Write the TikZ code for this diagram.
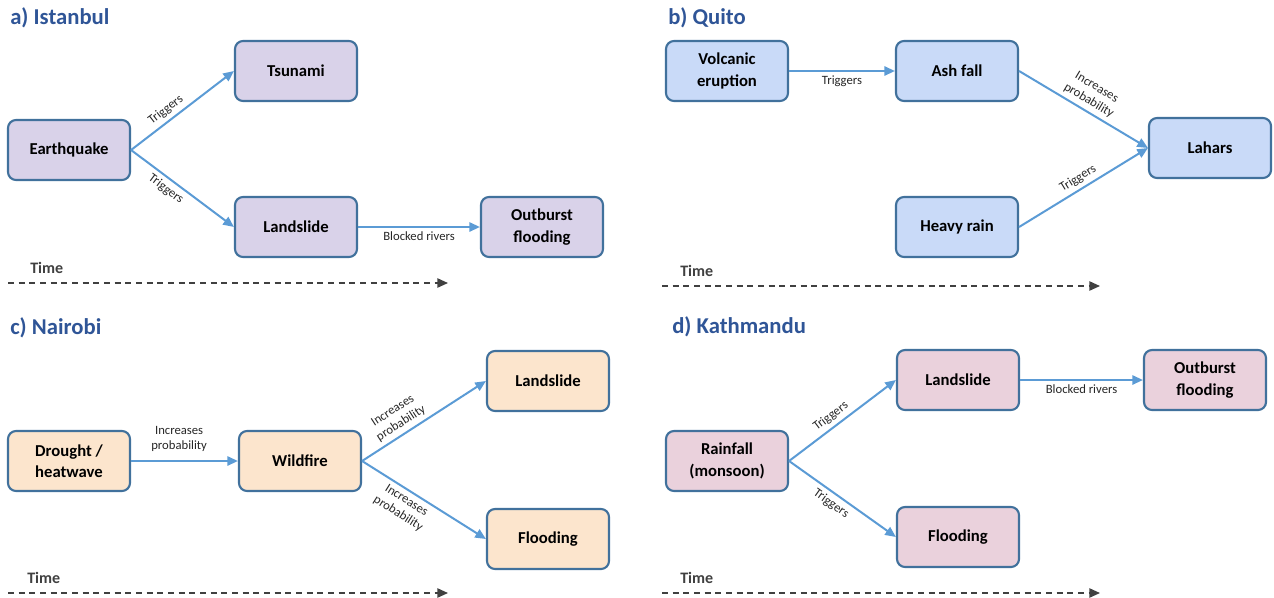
\documentclass[tikz,border=0pt]{standalone}
\usepackage{fontspec}
\setmainfont{Carlito}
\usetikzlibrary{arrows.meta}
\definecolor{lav}{HTML}{D9D2E9}
\definecolor{lblue}{HTML}{C9DAF8}
\definecolor{peach}{HTML}{FCE5CD}
\definecolor{pinkf}{HTML}{EAD1DC}
\definecolor{bord}{HTML}{41719C}
\definecolor{arr}{HTML}{5B9BD5}
\definecolor{ttl}{HTML}{2F5597}
\definecolor{tgray}{HTML}{404040}
\tikzset{
  box/.style={draw=bord, line width=1.6pt, rounded corners=6pt, minimum width=91.5pt, minimum height=45pt, align=center, inner sep=2pt, font=\fontsize{12.5}{16}\selectfont\bfseries},
  conn/.style={draw=arr, line width=1.5pt, -{Triangle[length=8pt,width=7pt]}},
  elab/.style={font=\fontsize{9.5}{11.5}\selectfont, text=black!85, align=center, inner sep=3pt},
  ptitle/.style={font=\fontsize{17}{20}\selectfont\bfseries, text=ttl, anchor=west, inner sep=0pt},
  tlabel/.style={font=\fontsize{12}{14}\selectfont\bfseries, text=tgray, anchor=west, inner sep=0pt},
  tarrow/.style={draw=tgray, line width=1.1pt, dash pattern=on 4.5pt off 3.5pt, -{Triangle[length=8pt,width=7pt]}}
}
\begin{document}
\begin{tikzpicture}[x=0.75pt, y=-0.75pt]
\useasboundingbox (0,0) rectangle (1274,597);
% ---------- a) Istanbul
\node[ptitle] (ta) at (10,18) {a) Istanbul};
\node[box, fill=lav] (eq) at (69,150) {Earthquake};
\node[box, fill=lav] (ts) at (296,71) {Tsunami};
\node[box, fill=lav] (ls) at (296,227) {Landslide};
\node[box, fill=lav] (of) at (542,227) {Outburst\\flooding};
\draw[conn] (eq.east) -- node[elab, sloped, above, pos=0.4] {Triggers} (ts.west);
\draw[conn] (eq.east) -- node[elab, sloped, below, pos=0.4] {Triggers} (ls.west);
\draw[conn] (ls.east) -- node[elab, below] {Blocked rivers} (of.west);
\node[tlabel] (tma) at (30,268) {Time};
\coordinate (a1) at (8,283);
\coordinate (a2) at (448,283);
\draw[tarrow] (a1) -- (a2);
% ---------- b) Quito
\node[ptitle] (tb) at (668,18) {b) Quito};
\node[box, fill=lblue] (ve) at (727,71) {Volcanic\\eruption};
\node[box, fill=lblue] (af) at (957,71) {Ash fall};
\node[box, fill=lblue] (la) at (1210,148) {Lahars};
\node[box, fill=lblue] (hr) at (957,227) {Heavy rain};
\draw[conn] (ve.east) -- node[elab, below] {Triggers} (af.west);
\draw[conn] (af.east) -- node[elab, sloped, above, pos=0.5] {Increases\\probability} (la.west);
\draw[conn] (hr.east) -- node[elab, sloped, above, pos=0.5] {Triggers} (la.west);
\node[tlabel] (tmb) at (680,271) {Time};
\coordinate (b1) at (662,286);
\coordinate (b2) at (1100,286);
\draw[tarrow] (b1) -- (b2);
% ---------- c) Nairobi
\node[ptitle] (tc) at (10,328) {c) Nairobi};
\node[box, fill=peach] (dh) at (69,461) {Drought /\\heatwave};
\node[box, fill=peach] (wf) at (300,461) {Wildfire};
\node[box, fill=peach] (lc) at (548,381) {Landslide};
\node[box, fill=peach] (fc) at (548,539) {Flooding};
\draw[conn] (dh.east) -- node[elab, above, pos=0.45, yshift=3pt] {Increases\\probability} (wf.west);
\draw[conn] (wf.east) -- node[elab, sloped, above, pos=0.36] {Increases\\probability} (lc.west);
\draw[conn] (wf.east) -- node[elab, sloped, below, pos=0.4] {Increases\\probability} (fc.west);
\node[tlabel] (tmc) at (27,578) {Time};
\coordinate (c1) at (8,593);
\coordinate (c2) at (448,593);
\draw[tarrow] (c1) -- (c2);
% ---------- d) Kathmandu
\node[ptitle] (td) at (672,327) {d) Kathmandu};
\node[box, fill=pinkf] (rf) at (727,461) {Rainfall\\(monsoon)};
\node[box, fill=pinkf] (ld) at (958,380) {Landslide};
\node[box, fill=pinkf] (od) at (1205,380) {Outburst\\flooding};
\node[box, fill=pinkf] (fd) at (958,537) {Flooding};
\draw[conn] (rf.east) -- node[elab, sloped, above, pos=0.45] {Triggers} (ld.west);
\draw[conn] (rf.east) -- node[elab, sloped, below, pos=0.45] {Triggers} (fd.west);
\draw[conn] (ld.east) -- node[elab, below] {Blocked rivers} (od.west);
\node[tlabel] (tmd) at (680,578) {Time};
\coordinate (d1) at (662,593);
\coordinate (d2) at (1100,593);
\draw[tarrow] (d1) -- (d2);
\end{tikzpicture}
\end{document}
